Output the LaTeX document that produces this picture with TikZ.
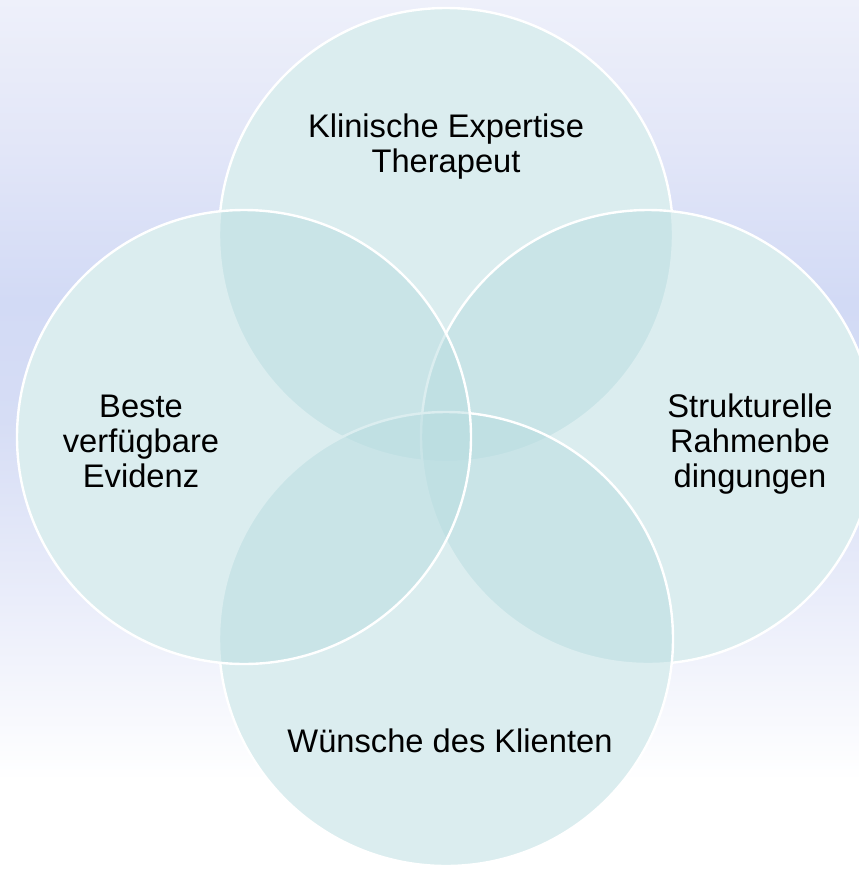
\documentclass[tikz,border=0pt]{standalone}
\usepackage{fontspec}
\setmainfont{Liberation Sans}
\definecolor{circfill}{RGB}{185,221,225}
\definecolor{bgA}{RGB}{238,240,250}
\definecolor{bgB}{RGB}{226,230,248}
\definecolor{bgC}{RGB}{210,218,245}
\definecolor{bgD}{RGB}{214,221,245}
\definecolor{bgE}{RGB}{234,237,250}
\tikzset{
  venn/.style={fill=circfill, fill opacity=0.5, draw=white, draw opacity=1, line width=1.8pt},
  lbl/.style={font=\fontsize{24.5pt}{26.25pt}\selectfont, align=center, anchor=base, text=black, inner sep=0pt}
}
\begin{document}
\begin{tikzpicture}[x=0.75pt,y=-0.75pt]
\useasboundingbox (0,0) rectangle (859,871);
\clip (0,0) rectangle (859,871);
% background: vertical gradient in bands
\shade[top color=bgA, bottom color=bgB] (0,-1) rectangle (859,151);
\shade[top color=bgB, bottom color=bgC] (0,150) rectangle (859,301);
\shade[top color=bgC, bottom color=bgD] (0,300) rectangle (859,421);
\shade[top color=bgD, bottom color=bgE] (0,420) rectangle (859,601);
\shade[top color=bgE, bottom color=white] (0,600) rectangle (859,781);
\fill[white] (0,780) rectangle (859,872);
\coordinate (cT) at (446,235);
\coordinate (cR) at (648,437);
\coordinate (cB) at (446,639);
\coordinate (cL) at (244,437);
% opaque white base so the background does not tint the circles
\foreach \c in {cT,cR,cB,cL}{\fill[white] (\c) circle[radius=170.25pt];}
\draw[venn] (cT) circle[radius=170.25pt];
\draw[venn] (cR) circle[radius=170.25pt];
\draw[venn] (cB) circle[radius=170.25pt];
\draw[venn] (cL) circle[radius=170.25pt];
\node[lbl] (tT) at (446,172) {Klinische Expertise\\Therapeut};
\node[lbl] (tL) at (141,487) {Beste\\verfügbare\\Evidenz};
\node[lbl] (tR) at (750,487) {Strukturelle\\Rahmenbe\\dingungen};
\node[lbl] (tB) at (450,752) {Wünsche des Klienten};
\end{tikzpicture}
\end{document}
